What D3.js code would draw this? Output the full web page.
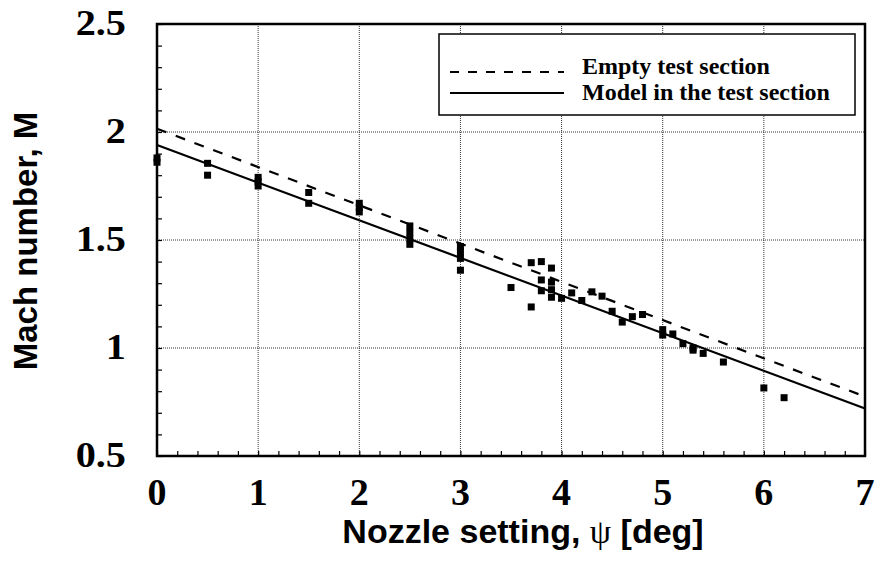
<!DOCTYPE html>
<html>
<head>
<meta charset="utf-8">
<script src="https://cdn.jsdelivr.net/npm/d3@7"></script>
<style>
  body { margin: 0; background: #fff; }
  svg { display: block; }
</style>
</head>
<body>
<script>
// measured points: nozzle setting (deg) and Mach number
var psi  = [0, 0, 0.5, 0.5, 1, 1, 1, 1.5, 1.5, 2, 2, 2,
            2.5, 2.5, 2.5, 2.5, 3, 3, 3, 3, 3.5, 3.7, 3.7,
            3.8, 3.8, 3.8, 3.9, 3.9, 3.9, 3.9, 4, 4.1, 4.2, 4.3, 4.4,
            4.5, 4.6, 4.7, 4.8, 5, 5, 5.1, 5.2, 5.3, 5.3, 5.4, 5.6, 6, 6.2];
var mach = [1.88, 1.86, 1.855, 1.80, 1.79, 1.77, 1.75, 1.72, 1.67, 1.67, 1.65, 1.63,
            1.565, 1.535, 1.505, 1.48, 1.47, 1.445, 1.415, 1.36, 1.28, 1.395, 1.19,
            1.40, 1.315, 1.265, 1.37, 1.305, 1.27, 1.235, 1.23, 1.255, 1.22, 1.26, 1.24,
            1.17, 1.12, 1.145, 1.155, 1.085, 1.06, 1.065, 1.02, 1.0, 0.99, 0.975, 0.935, 0.815, 0.77];

// fitted lines (end points)
var fitPsi   = [0, 7];
var emptyFit = [2.015, 0.775];
var modelFit = [1.94, 0.72];

var xTicks = [0, 1, 2, 3, 4, 5, 6, 7];
var yTicks = [0.5, 1, 1.5, 2, 2.5];
var legendLabels = ["Empty test section", "Model in the test section"];

var width = 877, height = 563;
var plotL = 157, plotR = 865, plotT = 24, plotB = 456;

var xscale = d3.scaleLinear().domain([0, 7]).range([plotL, plotR]);
var yscale = d3.scaleLinear().domain([0.5, 2.5]).range([plotB, plotT]);

var svg = d3.select("body")
        .append("svg")
        .attr("width", width)
        .attr("height", height);

svg.append("rect")
    .attr("width", width)
    .attr("height", height)
    .attr("fill", "#fff");

// grid lines
svg.append("g")
    .selectAll("line")
    .data(xTicks.slice(1, -1))
    .enter()
    .append("line")
    .attr("x1", function(d) { return xscale(d); })
    .attr("x2", function(d) { return xscale(d); })
    .attr("y1", plotT)
    .attr("y2", plotB)
    .attr("stroke", "#333")
    .attr("stroke-width", 1)
    .attr("stroke-dasharray", "1,1");

svg.append("g")
    .selectAll("line")
    .data(yTicks.slice(1, -1))
    .enter()
    .append("line")
    .attr("y1", function(d) { return yscale(d); })
    .attr("y2", function(d) { return yscale(d); })
    .attr("x1", plotL)
    .attr("x2", plotR)
    .attr("stroke", "#333")
    .attr("stroke-width", 1)
    .attr("stroke-dasharray", "1,1");

// minor ticks, pointing inward
var yaxis = d3.axisRight(yscale)
    .tickValues(d3.range(5, 26).map(function(v) { return v / 10; }))
    .tickSize(5)
    .tickFormat("");
svg.append("g")
    .attr("transform", "translate(" + plotL + ",0)")
    .call(yaxis)
    .call(function(g) { g.select(".domain").remove(); })
    .selectAll("line").attr("stroke-width", 1.2);

var xaxis = d3.axisTop(xscale)
    .tickValues(d3.range(0, 36).map(function(v) { return v / 5; }))
    .tickSize(5)
    .tickFormat("");
svg.append("g")
    .attr("transform", "translate(0," + plotB + ")")
    .call(xaxis)
    .call(function(g) { g.select(".domain").remove(); })
    .selectAll("line").attr("stroke-width", 1.2);

// fitted lines
var line = d3.line()
    .x(function(d) { return xscale(d[0]); })
    .y(function(d) { return yscale(d[1]); });

svg.append("path")
    .datum(d3.zip(fitPsi, emptyFit))
    .attr("d", line)
    .attr("fill", "none")
    .attr("stroke", "#000")
    .attr("stroke-width", 2.2)
    .attr("stroke-dasharray", "10,10");

svg.append("path")
    .datum(d3.zip(fitPsi, modelFit))
    .attr("d", line)
    .attr("fill", "none")
    .attr("stroke", "#000")
    .attr("stroke-width", 2.2);

// data points
var sq = 7;
svg.append("g")
    .selectAll("rect")
    .data(d3.zip(psi, mach))
    .enter()
    .append("rect")
    .attr("x", function(d) { return xscale(d[0]) - sq / 2; })
    .attr("y", function(d) { return yscale(d[1]) - sq / 2; })
    .attr("width", sq)
    .attr("height", sq)
    .attr("fill", "#000");

// plot frame
svg.append("rect")
    .attr("x", plotL)
    .attr("y", plotT)
    .attr("width", plotR - plotL)
    .attr("height", plotB - plotT)
    .attr("fill", "none")
    .attr("stroke", "#000")
    .attr("stroke-width", 2.5);

// tick labels
svg.append("g")
    .selectAll("text")
    .data(xTicks)
    .enter()
    .append("text")
    .attr("x", function(d) { return xscale(d); })
    .attr("y", 505)
    .attr("text-anchor", "middle")
    .style("font-family", "'Liberation Serif', 'Times New Roman', serif")
    .style("font-weight", "bold")
    .style("font-size", "38px")
    .text(function(d) { return d; });

svg.append("g")
    .selectAll("text")
    .data(yTicks)
    .enter()
    .append("text")
    .attr("transform", function(d) {
        return "translate(126," + (yscale(d) + 11) + ") scale(1.15,1)";
    })
    .attr("text-anchor", "end")
    .style("font-family", "'Liberation Serif', 'Times New Roman', serif")
    .style("font-weight", "bold")
    .style("font-size", "35px")
    .text(function(d) { return d; });

// axis titles
var xt = svg.append("text")
    .attr("x", 523)
    .attr("y", 543)
    .attr("text-anchor", "middle")
    .style("font-family", "'Liberation Sans', Arial, sans-serif")
    .style("font-weight", "bold")
    .style("font-size", "34px");
xt.append("tspan").text("Nozzle setting, ");
xt.append("tspan")
    .style("font-family", "'Liberation Serif', serif")
    .style("font-weight", "normal")
    .text("ψ");
xt.append("tspan").text(" [deg]");

svg.append("text")
    .attr("transform", "translate(37,241) rotate(-90)")
    .attr("text-anchor", "middle")
    .style("font-family", "'Liberation Sans', Arial, sans-serif")
    .style("font-weight", "bold")
    .style("font-size", "33px")
    .text("Mach number, M");

// legend
var legend = svg.append("g");
legend.append("rect")
    .attr("x", 439)
    .attr("y", 34)
    .attr("width", 416)
    .attr("height", 81)
    .attr("fill", "#fff")
    .attr("stroke", "#000")
    .attr("stroke-width", 1.5);

var legendDash = ["9,9", null];
legendLabels.forEach(function(label, i) {
    var ly = 72 + i * 21;
    legend.append("line")
        .attr("x1", 450)
        .attr("x2", 564)
        .attr("y1", ly)
        .attr("y2", ly)
        .attr("stroke", "#000")
        .attr("stroke-width", 2.2)
        .attr("stroke-dasharray", legendDash[i]);
    legend.append("text")
        .attr("x", 582)
        .attr("y", 74 + i * 26)
        .style("font-family", "'Liberation Serif', 'Times New Roman', serif")
        .style("font-weight", "bold")
        .style("font-size", "24px")
        .text(label);
});
</script>
</body>
</html>
